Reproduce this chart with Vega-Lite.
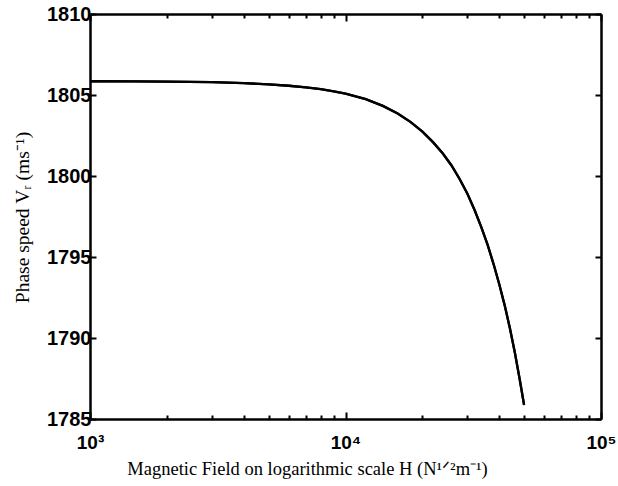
{
  "$schema": "https://vega.github.io/schema/vega-lite/v6.json",
  "autosize": "none",
  "width": 511,
  "height": 405,
  "padding": {"left": 90, "top": 14, "right": 17, "bottom": 67},
  "background": "white",
  "config": {"view": {"stroke": null}},
  "data": {"values": [
    {"H": 1000, "V": 1805.85}, {"H": 1500, "V": 1805.84}, {"H": 2000, "V": 1805.83},
    {"H": 3000, "V": 1805.79}, {"H": 4000, "V": 1805.73}, {"H": 5000, "V": 1805.66},
    {"H": 6000, "V": 1805.57}, {"H": 7000, "V": 1805.47}, {"H": 8000, "V": 1805.36},
    {"H": 9000, "V": 1805.23}, {"H": 10000, "V": 1805.08}, {"H": 12000, "V": 1804.74},
    {"H": 14000, "V": 1804.33}, {"H": 16000, "V": 1803.86}, {"H": 18000, "V": 1803.33},
    {"H": 20000, "V": 1802.74}, {"H": 22000, "V": 1802.09}, {"H": 24000, "V": 1801.4},
    {"H": 26000, "V": 1800.65}, {"H": 28000, "V": 1799.8}, {"H": 30000, "V": 1798.9},
    {"H": 32000, "V": 1797.9}, {"H": 34000, "V": 1796.85}, {"H": 36000, "V": 1795.75},
    {"H": 38000, "V": 1794.55}, {"H": 40000, "V": 1793.3}, {"H": 42000, "V": 1792.0},
    {"H": 44000, "V": 1790.6}, {"H": 46000, "V": 1789.1}, {"H": 48000, "V": 1787.5},
    {"H": 50000, "V": 1785.86}
  ]},
  "layer": [
    {
      "mark": {"type": "line", "color": "black", "strokeWidth": 2.3},
      "encoding": {
        "x": {"field": "H", "type": "quantitative",
          "scale": {"type": "log", "domain": [1000, 100000], "nice": false},
          "axis": {
            "orient": "bottom",
            "values": [1000,2000,3000,4000,5000,6000,7000,8000,9000,10000,20000,30000,40000,50000,60000,70000,80000,90000,100000],
            "labelExpr": "datum.value == 1000 ? '10³' : datum.value == 10000 ? '10⁴' : datum.value == 100000 ? '10⁵' : ''",
            "labelFont": "Liberation Sans", "labelFontWeight": "bold", "labelFontSize": 19, "labelColor": "black",
            "labelPadding": 21, "labelFlush": false, "labelOverlap": false,
            "tickSize": {"condition": {"test": "datum.value == 1000 || datum.value == 10000 || datum.value == 100000", "value": -7}, "value": -4},
            "tickColor": "black", "tickWidth": 2,
            "domainColor": "black", "domainWidth": 2.5,
            "grid": false,
            "title": "Magnetic Field on logarithmic scale H  (N¹ᐟ²m⁻¹)",
            "titleFont": "Liberation Serif", "titleFontWeight": "normal", "titleFontSize": 18.5, "titleColor": "black",
            "titleX": 217, "titleY": 55, "titleAlign": "center", "titleBaseline": "alphabetic"
          }
        },
        "y": {"field": "V", "type": "quantitative",
          "scale": {"domain": [1785, 1810], "nice": false, "zero": false},
          "axis": {
            "orient": "left",
            "values": [1785, 1790, 1795, 1800, 1805, 1810],
            "format": "d",
            "labelFont": "Liberation Sans", "labelFontWeight": "bold", "labelFontSize": 20, "labelColor": "black",
            "labelPadding": 5, "labelFlush": false, "labelOverlap": false,
            "tickSize": -6, "tickColor": "black", "tickWidth": 2,
            "domainColor": "black", "domainWidth": 2.5,
            "grid": false,
            "title": "Phase speed  Vᵣ  (ms⁻¹)",
            "titleFont": "Liberation Serif", "titleFontWeight": "normal", "titleFontSize": 19.5, "titleColor": "black",
            "titleX": -68, "titleY": 203, "titleAngle": 270, "titleAlign": "center", "titleBaseline": "middle"
          }
        }
      }
    },
    {
      "mark": {"type": "line", "color": "black", "strokeWidth": 2.3},
      "encoding": {
        "x": {"field": "H", "type": "quantitative",
          "scale": {"type": "log", "domain": [1000, 100000], "nice": false},
          "axis": {
            "orient": "top",
            "values": [1000,2000,3000,4000,5000,6000,7000,8000,9000,10000,20000,30000,40000,50000,60000,70000,80000,90000,100000],
            "labels": false,
            "tickSize": {"condition": {"test": "datum.value == 1000 || datum.value == 10000 || datum.value == 100000", "value": -7}, "value": -4},
            "tickColor": "black", "tickWidth": 2,
            "domainColor": "black", "domainWidth": 2.5,
            "grid": false, "title": null
          }
        },
        "y": {"field": "V", "type": "quantitative",
          "scale": {"domain": [1785, 1810], "nice": false, "zero": false},
          "axis": {
            "orient": "right",
            "values": [1785, 1790, 1795, 1800, 1805, 1810],
            "labels": false,
            "tickSize": -6, "tickColor": "black", "tickWidth": 2,
            "domainColor": "black", "domainWidth": 2.5,
            "grid": false, "title": null
          }
        }
      }
    }
  ],
  "resolve": {"axis": {"x": "independent", "y": "independent"}}
}
